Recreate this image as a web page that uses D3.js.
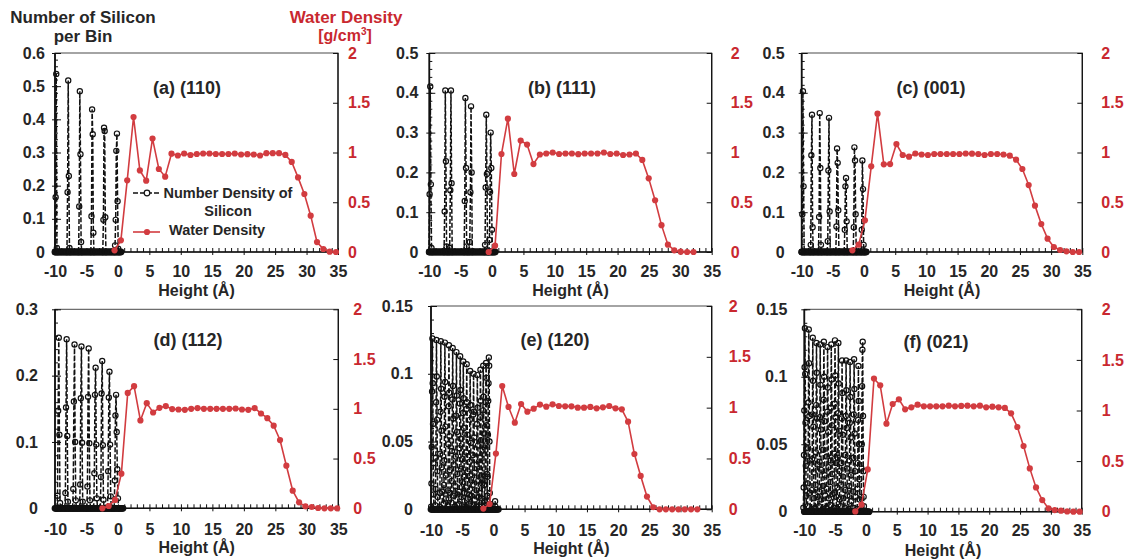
<!DOCTYPE html>
<html>
<head>
<meta charset="utf-8">
<script src="https://cdn.jsdelivr.net/npm/d3@7"></script>
<style>
  body { margin: 0; background: #fff; }
  svg text { font-family: "Liberation Sans", Arial, sans-serif; font-weight: bold; }
</style>
</head>
<body>
<svg id="chart" width="1131" height="559"></svg>
<script>
// ---------- data ----------
const heightTicks = [-10, -5, 0, 5, 10, 15, 20, 25, 30, 35];
const densityTicks = [0, 0.5, 1, 1.5, 2];
const panelLabels = ["(a) (110)", "(b) (111)", "(c) (001)", "(d) (112)", "(e) (120)", "(f) (021)"];
const siliconAxisMax = [0.6, 0.5, 0.5, 0.3, 0.15, 0.15];
const siliconAxisStep = [0.1, 0.1, 0.1, 0.1, 0.05, 0.05];

// water density profiles (g/cm3): centre of first bin and bin spacing in Å
const waterFirstBin = [-0.53, -0.54, -1.88, -2.48, -1.61, -1.73];
const waterBinStep = [1.006, 1.02, 1.01, 1.008, 1.009, 1.011];
const waterA = [0.017, 0.117, 0.72, 1.357, 0.82, 0.717, 1.14, 0.834, 0.757, 0.988, 0.97, 0.99, 0.975, 0.985,
  0.99, 0.99, 0.985, 0.985, 0.985, 0.99, 0.98, 0.983, 0.98, 0.97, 0.993, 0.993, 0.993, 0.976, 0.905, 0.75,
  0.583, 0.365, 0.10, 0.03, 0.003, 0];
const waterB = [0, 0.064, 0.985, 1.34, 0.784, 1.12, 1.08, 0.884, 0.98, 0.99, 1.0, 0.985, 0.99, 0.99, 0.983,
  0.99, 0.99, 0.99, 1.0, 0.985, 0.99, 0.975, 0.98, 0.99, 0.925, 0.74, 0.52, 0.27, 0.074, 0.017, 0.003, 0, 0];
const waterC = [0.017, 0.074, 0.318, 0.861, 1.39, 0.881, 0.884, 1.085, 0.975, 0.958, 0.99, 0.98, 0.975, 0.985,
  0.985, 0.985, 0.985, 0.985, 0.99, 0.988, 0.985, 0.975, 0.985, 0.985, 0.98, 0.968, 0.928, 0.834, 0.673, 0.466,
  0.281, 0.134, 0.05, 0.02, 0.007, 0, 0];
const waterD = [0, 0.023, 0.084, 0.348, 1.16, 1.227, 0.883, 1.057, 0.963, 1.01, 1.027, 0.997, 0.993, 0.99, 1.0,
  1.007, 1.0, 1.0, 1.0, 1.0, 1.0, 1.003, 0.993, 0.99, 1.007, 0.953, 0.906, 0.83, 0.686, 0.428, 0.177, 0.06,
  0.02, 0.013, 0.003, 0, 0, 0];
const waterE = [0.007, 0.052, 0.548, 1.213, 1.007, 0.852, 1.036, 0.96, 0.99, 1.03, 1.01, 1.033, 1.016, 1.013,
  1.013, 1.0, 1.0, 1.007, 0.993, 1.003, 1.016, 0.993, 0.984, 0.862, 0.544, 0.328, 0.125, 0.02, 0, 0, 0, 0, 0, 0, 0];
const waterF = [0.003, 0.069, 0.418, 1.315, 1.249, 0.87, 1.064, 1.11, 1.012, 1.031, 1.058, 1.041, 1.041, 1.041,
  1.041, 1.048, 1.041, 1.045, 1.048, 1.041, 1.048, 1.031, 1.038, 1.031, 1.025, 0.972, 0.837, 0.649, 0.428,
  0.24, 0.115, 0.033, 0.016, 0.01, 0.003, 0, 0];

// silicon number per bin: one peak per atomic layer, given by its centre (Å)
// and the counts in consecutive bins across it; bins outside the peaks are empty
const siliconBinWidth = [0.1, 0.1, 0.1, 0.1, 0.05, 0.05];
const siliconEmptyBinStep = 0.15;
const siliconEmptyUpTo = [0.5, 0.5, 0.4, 0.85, 0.9, 0.6];

const siliconCentersA = [-9.8, -7.85, -6.0, -4.05, -2.15, -0.2];
const siliconPeaksA = [
  [0, 0.165, 0.537, 0.012, 0],
  [0, 0.18, 0.517, 0.229, 0.012, 0],
  [0, 0.137, 0.485, 0.295, 0.03, 0],
  [0, 0.108, 0.43, 0.355, 0.058, 0],
  [0, 0.097, 0.375, 0.365, 0.105, 0],
  [0, 0.02, 0.097, 0.305, 0.357, 0.153, 0.01, 0]
];
const siliconCentersB = [-9.8, -7.4, -6.6, -4.2, -3.4, -0.97, -0.22];
const siliconPeaksB = [
  [0, 0.145, 0.416, 0.17, 0.01, 0],
  [0, 0.102, 0.406, 0.228, 0.014, 0],
  [0, 0.01, 0.155, 0.406, 0.173, 0],
  [0, 0.128, 0.387, 0.211, 0.014, 0],
  [0, 0.025, 0.15, 0.366, 0.2, 0],
  [0, 0.018, 0.162, 0.345, 0.196, 0],
  [0, 0.03, 0.151, 0.3, 0.211, 0.056, 0]
];
const siliconCentersC = [-9.8, -8.4, -7.06, -5.67, -4.28, -2.94, -1.5, -0.22];
const siliconPeaksC = [
  [0, 0.095, 0.404, 0.165, 0],
  [0, 0.018, 0.243, 0.345, 0.062, 0],
  [0, 0.088, 0.349, 0.211, 0.018, 0],
  [0, 0.027, 0.205, 0.337, 0.102, 0],
  [0, 0.064, 0.26, 0.224, 0.105, 0],
  [0, 0.056, 0.165, 0.186, 0.077, 0],
  [0, 0.062, 0.263, 0.23, 0.095, 0],
  [0, 0.056, 0.23, 0.158, 0.018, 0]
];
const siliconCentersD = [-9.4, -8.15, -6.9, -5.8, -4.65, -3.55, -2.5, -1.35, -0.25];
const siliconPeaksD = [
  [0, 0.019, 0.147, 0.257, 0.111, 0.008, 0],
  [0, 0.023, 0.152, 0.255, 0.109, 0.01, 0],
  [0, 0.029, 0.161, 0.247, 0.1, 0.012, 0],
  [0, 0.036, 0.166, 0.244, 0.099, 0.01, 0],
  [0, 0.033, 0.168, 0.241, 0.098, 0.012, 0],
  [0, 0.053, 0.171, 0.212, 0.096, 0.015, 0],
  [0, 0.047, 0.173, 0.222, 0.095, 0.013, 0],
  [0, 0.056, 0.167, 0.206, 0.096, 0.018, 0],
  [0, 0.042, 0.14, 0.171, 0.115, 0.059, 0.015, 0]
];
const siliconCentersE = [-9.75, -9.1, -8.4, -7.75, -7.1, -6.5, -5.9, -5.3, -4.8, -4.25, -3.7, -3.15, -2.55,
  -2.05, -1.6, -1.15, -0.75, 0.3];
const siliconPeaksE = [
  [0.002, 0.019, 0.046, 0.087, 0.126, 0.093, 0.063, 0.034, 0.011, 0],
  [0.003, 0.015, 0.038, 0.079, 0.125, 0.098, 0.066, 0.028, 0.009, 0],
  [0.002, 0.012, 0.041, 0.072, 0.124, 0.089, 0.058, 0.031, 0.013, 0],
  [0.004, 0.018, 0.036, 0.083, 0.123, 0.094, 0.061, 0.025, 0.008, 0],
  [0.003, 0.014, 0.048, 0.076, 0.121, 0.086, 0.054, 0.029, 0.012, 0],
  [0.005, 0.021, 0.043, 0.081, 0.119, 0.091, 0.067, 0.033, 0.01, 0],
  [0.002, 0.017, 0.039, 0.069, 0.116, 0.084, 0.057, 0.026, 0.011, 0],
  [0.004, 0.013, 0.045, 0.078, 0.113, 0.088, 0.052, 0.03, 0.009, 0],
  [0.003, 0.02, 0.037, 0.071, 0.109, 0.082, 0.06, 0.024, 0.012, 0],
  [0.002, 0.016, 0.042, 0.074, 0.107, 0.079, 0.055, 0.028, 0.008, 0],
  [0.004, 0.011, 0.035, 0.066, 0.102, 0.077, 0.049, 0.022, 0.01, 0],
  [0.003, 0.018, 0.04, 0.07, 0.1, 0.072, 0.053, 0.027, 0.007, 0],
  [0.002, 0.014, 0.033, 0.063, 0.099, 0.075, 0.047, 0.021, 0.009, 0],
  [0.003, 0.012, 0.038, 0.068, 0.103, 0.08, 0.051, 0.025, 0.008, 0],
  [0.002, 0.019, 0.044, 0.073, 0.106, 0.083, 0.056, 0.018, 0.006, 0],
  [0.003, 0.021, 0.047, 0.079, 0.108, 0.097, 0.062, 0.026, 0.01, 0],
  [0.001, 0.006, 0.024, 0.055, 0.08, 0.093, 0.112, 0.106, 0.05, 0.012, 0.004, 0],
  [0, 0.006, 0.002, 0]
];
const siliconCentersF = [-9.9, -9.25, -8.6, -8.0, -7.4, -6.8, -6.2, -5.6, -5.0, -4.45, -3.85, -3.2, -2.55,
  -1.9, -1.2, -0.55];
const siliconPeaksF = [
  [0.003, 0.018, 0.042, 0.075, 0.107, 0.136, 0.102, 0.066, 0.034, 0.012, 0],
  [0.004, 0.021, 0.047, 0.081, 0.135, 0.11, 0.071, 0.038, 0.014, 0],
  [0.002, 0.016, 0.039, 0.072, 0.129, 0.097, 0.063, 0.029, 0.01, 0],
  [0.003, 0.02, 0.044, 0.079, 0.125, 0.103, 0.069, 0.035, 0.011, 0],
  [0.004, 0.015, 0.037, 0.07, 0.124, 0.094, 0.061, 0.031, 0.009, 0],
  [0.002, 0.019, 0.046, 0.083, 0.126, 0.1, 0.067, 0.027, 0.012, 0],
  [0.003, 0.017, 0.041, 0.074, 0.122, 0.092, 0.059, 0.033, 0.01, 0],
  [0.005, 0.022, 0.038, 0.077, 0.124, 0.098, 0.064, 0.028, 0.013, 0],
  [0.003, 0.014, 0.043, 0.08, 0.127, 0.101, 0.07, 0.036, 0.011, 0],
  [0.002, 0.018, 0.04, 0.073, 0.125, 0.095, 0.06, 0.03, 0.009, 0],
  [0.004, 0.02, 0.036, 0.069, 0.112, 0.088, 0.057, 0.026, 0.01, 0],
  [0.003, 0.016, 0.042, 0.071, 0.112, 0.09, 0.062, 0.032, 0.012, 0],
  [0.002, 0.019, 0.038, 0.066, 0.111, 0.085, 0.055, 0.027, 0.008, 0],
  [0.003, 0.015, 0.04, 0.072, 0.113, 0.091, 0.058, 0.03, 0.011, 0],
  [0.002, 0.017, 0.036, 0.068, 0.108, 0.082, 0.05, 0.024, 0.009, 0],
  [0.002, 0.011, 0.032, 0.05, 0.093, 0.12, 0.126, 0.071, 0.03, 0.011, 0.004, 0]
];

const waterSeries = [waterA, waterB, waterC, waterD, waterE, waterF];
const siliconCenters = [siliconCentersA, siliconCentersB, siliconCentersC, siliconCentersD, siliconCentersE, siliconCentersF];
const siliconPeaks = [siliconPeaksA, siliconPeaksB, siliconPeaksC, siliconPeaksD, siliconPeaksE, siliconPeaksF];

// ---------- layout ----------
const panels = [
  { l: 55,    r: 338,    t: 53,    b: 252,   lPad: 7,  rPad: 10, xPad: 23, lx: 187, ly: 88,  titleY: 290 },
  { l: 429.3, r: 711.7,  t: 53,    b: 252,   lPad: 8,  rPad: 19, xPad: 23, lx: 562, ly: 88,  titleY: 290 },
  { l: 801.7, r: 1082.3, t: 53,    b: 252,   lPad: 14, rPad: 19, xPad: 23, lx: 931, ly: 88,  titleY: 290 },
  { l: 55,    r: 338.3,  t: 309.3, b: 508.3, lPad: 14, rPad: 15, xPad: 24, lx: 188, ly: 340, titleY: 547 },
  { l: 431,   r: 711.7,  t: 306,   b: 509.3, lPad: 15, rPad: 17, xPad: 24, lx: 555, ly: 340, titleY: 548 },
  { l: 804.3, r: 1081.7, t: 309.3, b: 511.7, lPad: 14, rPad: 20, xPad: 22, lx: 936, ly: 342, titleY: 550 }
];

const RED = "#c9282f";
const RED_MARK = "#d23c40";
const INK = "#262626";
const SI = "#111111";
const tickFont = "16px";

const svg = d3.select("#chart");

function fmt(v) { return String(+v.toFixed(3)); }

panels.forEach((p, i) => {
  const g = svg.append("g");
  const x = d3.scaleLinear().domain([-10, 35]).range([p.l, p.r]);
  const yL = d3.scaleLinear().domain([0, siliconAxisMax[i]]).range([p.b, p.t]);
  const yR = d3.scaleLinear().domain([0, 2]).range([p.b, p.t]);

  // frame
  g.append("rect").attr("x", p.l).attr("y", p.t).attr("width", p.r - p.l).attr("height", p.b - p.t)
    .attr("fill", "none").attr("stroke", "#4a4a4a").attr("stroke-width", 1);

  // bottom axis: minor ticks every Å inside, major labelled ticks
  const minorX = d3.range(-10, 35.001, 1);
  g.append("g").attr("transform", `translate(0,${p.b})`)
    .call(d3.axisBottom(x).tickValues(minorX).tickSize(-4).tickFormat(""))
    .call(a => a.select(".domain").remove())
    .call(a => a.selectAll("line").attr("stroke", SI).attr("stroke-width", 1));
  g.append("g").attr("transform", `translate(0,${p.b})`)
    .call(d3.axisBottom(x).tickValues(heightTicks).tickSize(3).tickPadding(p.xPad - 12).tickFormat(d => String(d)))
    .call(a => a.select(".domain").remove())
    .call(a => a.selectAll("line").attr("stroke", SI).attr("stroke-width", 1))
    .call(a => a.selectAll("text").attr("fill", INK).style("font-size", tickFont));

  // left axis
  const step = siliconAxisStep[i];
  const minorY = d3.range(0, siliconAxisMax[i] + 1e-9, step / 5);
  const majorY = d3.range(0, siliconAxisMax[i] + 1e-9, step);
  g.append("g").attr("transform", `translate(${p.l},0)`)
    .call(d3.axisLeft(yL).tickValues(minorY).tickSize(-3).tickFormat(""))
    .call(a => a.select(".domain").remove())
    .call(a => a.selectAll("line").attr("stroke", SI).attr("stroke-width", 1));
  g.append("g").attr("transform", `translate(${p.l},0)`)
    .call(d3.axisLeft(yL).tickValues(majorY).tickSize(-6).tickFormat(""))
    .call(a => a.select(".domain").remove())
    .call(a => a.selectAll("line").attr("stroke", SI).attr("stroke-width", 1));
  g.append("g").attr("transform", `translate(${p.l},0)`)
    .call(d3.axisLeft(yL).tickValues(majorY).tickSize(3).tickPadding(p.lPad).tickFormat(fmt))
    .call(a => a.select(".domain").remove())
    .call(a => a.selectAll("line").attr("stroke", SI).attr("stroke-width", 1))
    .call(a => a.selectAll("text").attr("fill", INK).style("font-size", tickFont));

  // right axis (water density)
  g.append("g").attr("transform", `translate(${p.r},0)`)
    .call(d3.axisRight(yR).tickValues(densityTicks).tickSize(-5).tickPadding(p.rPad).tickFormat(fmt))
    .call(a => a.select(".domain").remove())
    .call(a => a.selectAll("line").attr("stroke", SI).attr("stroke-width", 1))
    .call(a => a.selectAll("text").attr("fill", RED).style("font-size", tickFont));

  // axis spines
  g.append("line").attr("x1", p.l).attr("x2", p.l).attr("y1", p.t).attr("y2", p.b)
    .attr("stroke", SI).attr("stroke-width", 1.8);
  g.append("line").attr("x1", p.l).attr("x2", p.r).attr("y1", p.b).attr("y2", p.b)
    .attr("stroke", SI).attr("stroke-width", 1.6);
  g.append("line").attr("x1", p.r).attr("x2", p.r).attr("y1", p.t).attr("y2", p.b)
    .attr("stroke", SI).attr("stroke-width", 1.3);

  // silicon: empty bins along the baseline
  const empty = d3.range(-10, siliconEmptyUpTo[i] + 1e-9, siliconEmptyBinStep).map(v => [v, 0]);
  g.append("g").selectAll("circle").data(empty).join("circle")
    .attr("cx", d => x(d[0])).attr("cy", d => yL(d[1])).attr("r", 2.7)
    .attr("fill", "none").attr("stroke", SI).attr("stroke-width", 1.4);

  // silicon: one dashed series per layer peak
  const bw = siliconBinWidth[i];
  const line = d3.line().x(d => x(d[0])).y(d => yL(d[1]));
  siliconCenters[i].forEach((c, k) => {
    const vals = siliconPeaks[i][k];
    const pts = vals.map((v, j) => [c + (j - (vals.length - 1) / 2) * bw, v]);
    g.append("path").datum(pts).attr("d", line)
      .attr("fill", "none").attr("stroke", SI).attr("stroke-width", 1.5)
      .attr("stroke-dasharray", "5,2");
    g.append("g").selectAll("circle").data(pts).join("circle")
      .attr("cx", d => x(d[0])).attr("cy", d => yL(d[1])).attr("r", 2.6)
      .attr("fill", "none").attr("stroke", SI).attr("stroke-width", 1.2);
  });

  // water density
  const w = waterSeries[i].map((v, j) => [waterFirstBin[i] + j * waterBinStep[i], v]);
  const wline = d3.line().x(d => x(d[0])).y(d => yR(d[1]));
  g.append("path").datum(w).attr("d", wline)
    .attr("fill", "none").attr("stroke", RED_MARK).attr("stroke-width", 1.6);
  g.append("g").selectAll("circle").data(w).join("circle")
    .attr("cx", d => x(d[0])).attr("cy", d => yR(d[1])).attr("r", 3.1)
    .attr("fill", RED_MARK);

  // panel label
  g.append("text").attr("x", p.lx).attr("y", p.ly).attr("text-anchor", "middle")
    .attr("dominant-baseline", "central").attr("fill", INK).style("font-size", "18px")
    .text(panelLabels[i]);

  // x axis title
  g.append("text").attr("x", (p.l + p.r) / 2).attr("y", p.titleY).attr("text-anchor", "middle")
    .attr("dominant-baseline", "central").attr("fill", INK).style("font-size", "16px")
    .text("Height (Å)");
});

// axis titles at the top
const titles = svg.append("g");
titles.append("text").attr("x", 83).attr("y", 23).attr("text-anchor", "middle")
  .attr("fill", INK).style("font-size", "17px").text("Number of Silicon");
titles.append("text").attr("x", 83).attr("y", 42).attr("text-anchor", "middle")
  .attr("fill", INK).style("font-size", "17px").text("per Bin");
titles.append("text").attr("x", 346).attr("y", 23).attr("text-anchor", "middle")
  .attr("fill", RED).style("font-size", "17px").text("Water Density");
const unit = titles.append("text").attr("x", 345).attr("y", 41).attr("text-anchor", "middle")
  .attr("fill", RED).style("font-size", "16px");
unit.append("tspan").text("[g/cm");
unit.append("tspan").attr("dy", -6).style("font-size", "10px").text("3");
unit.append("tspan").attr("dy", 6).text("]");

// legend inside panel (a)
const lg = svg.append("g");
lg.append("line").attr("x1", 133).attr("x2", 160).attr("y1", 193).attr("y2", 193)
  .attr("stroke", SI).attr("stroke-width", 1.4).attr("stroke-dasharray", "5,2");
lg.append("circle").attr("cx", 147).attr("cy", 193).attr("r", 2.8)
  .attr("fill", "#fff").attr("stroke", SI).attr("stroke-width", 1.2);
lg.append("text").attr("x", 228).attr("y", 193).attr("text-anchor", "middle")
  .attr("dominant-baseline", "central").attr("fill", INK).style("font-size", "14.5px").text("Number Density of");
lg.append("text").attr("x", 228).attr("y", 211).attr("text-anchor", "middle")
  .attr("dominant-baseline", "central").attr("fill", INK).style("font-size", "14.5px").text("Silicon");
lg.append("line").attr("x1", 133).attr("x2", 160).attr("y1", 232).attr("y2", 232)
  .attr("stroke", RED_MARK).attr("stroke-width", 1.6);
lg.append("circle").attr("cx", 147).attr("cy", 232).attr("r", 3.1).attr("fill", RED_MARK);
lg.append("text").attr("x", 169).attr("y", 230).attr("dominant-baseline", "central")
  .attr("fill", INK).style("font-size", "14.5px").text("Water Density");
</script>
</body>
</html>
